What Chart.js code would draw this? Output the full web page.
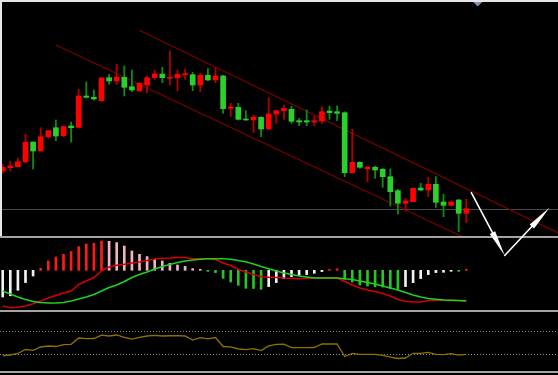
<!DOCTYPE html>
<html>
<head>
<meta charset="utf-8">
<script src="https://cdn.jsdelivr.net/npm/chart.js@4.4.0/dist/chart.umd.min.js"></script>
<style>
html,body{margin:0;padding:0;background:#000;overflow:hidden}
#wrap{width:558px;height:375px;position:relative;background:#000}
canvas{display:block}
</style>
</head>
<body>
<div id="wrap"><canvas id="c" width="558" height="375"></canvas></div>
<script>
// ---------- data ----------
const opens  = [22.90,23.23,23.33,23.83,25.80,24.90,26.33,27.23,26.43,27.40,27.27,30.40,30.27,29.93,32.23,31.90,32.27,31.33,30.93,31.50,32.23,32.60,32.17,32.23,32.53,32.53,31.50,32.47,32.00,32.40,29.17,29.27,28.10,28.00,28.27,27.10,28.60,28.93,29.07,27.93,27.93,27.80,27.90,28.90,28.83,28.73,22.73,23.77,23.13,23.27,23.07,22.33,20.93,19.67,19.83,21.20,21.00,21.57,19.80,19.47,20.00,18.67];
const highs  = [23.57,23.90,24.17,26.60,25.80,27.23,26.95,28.00,27.40,27.80,31.07,31.80,31.00,32.27,32.57,33.57,33.40,33.00,31.73,32.40,33.00,33.27,34.90,33.00,33.07,32.77,32.67,33.13,33.23,32.47,29.67,29.67,28.93,28.50,28.33,30.23,29.00,29.50,29.40,28.17,29.00,28.40,29.33,29.40,29.40,28.83,27.07,23.83,23.30,23.40,23.17,23.10,21.07,20.17,21.17,21.67,22.27,22.33,20.57,19.90,20.07,20.07];
const lows   = [22.67,22.90,23.30,23.73,23.10,24.90,26.17,25.93,26.33,25.80,27.20,30.20,30.00,29.87,31.57,31.57,30.40,30.83,30.83,30.73,32.07,31.73,31.50,30.93,32.07,30.93,30.83,31.93,31.73,28.67,28.33,28.00,27.97,26.73,26.33,27.07,27.67,28.07,27.67,27.43,27.43,27.43,27.67,28.07,27.93,22.33,22.70,23.17,21.83,22.17,21.27,19.40,18.60,18.90,19.83,20.93,20.33,19.27,18.33,19.40,16.83,17.73];
const closes = [23.27,23.40,23.83,25.77,24.90,26.33,26.93,26.40,27.33,27.23,30.40,30.27,30.10,32.20,31.90,32.27,31.27,31.00,31.67,32.23,32.60,32.23,32.27,32.57,32.60,31.50,32.47,32.00,32.40,29.13,29.30,28.07,28.00,28.27,27.10,28.60,28.93,29.17,27.87,27.80,27.80,27.93,28.83,28.73,28.67,22.73,23.77,23.27,23.30,23.00,22.33,20.83,19.67,19.90,21.17,21.00,21.57,19.77,19.47,19.80,18.67,19.13];

const macdHist = [-0.267,-0.255,-0.200,-0.123,-0.057,0.020,0.093,0.133,0.160,0.187,0.237,0.263,0.270,0.293,0.290,0.277,0.243,0.193,0.160,0.137,0.110,0.093,0.070,0.053,0.040,0.017,0.010,-0.005,-0.023,-0.080,-0.117,-0.150,-0.180,-0.182,-0.190,-0.163,-0.123,-0.083,-0.063,-0.050,-0.043,-0.030,-0.013,0.010,0.015,-0.090,-0.117,-0.147,-0.157,-0.163,-0.168,-0.183,-0.190,-0.163,-0.123,-0.083,-0.043,-0.023,-0.020,-0.008,-0.010,0.007];
const difLine = [-0.357,-0.374,-0.370,-0.357,-0.335,-0.307,-0.277,-0.252,-0.227,-0.207,-0.142,-0.107,-0.072,-0.007,0.033,0.050,0.060,0.073,0.083,0.098,0.113,0.120,0.123,0.128,0.128,0.116,0.116,0.116,0.108,0.073,0.048,0.008,-0.017,-0.042,-0.064,-0.070,-0.072,-0.077,-0.080,-0.084,-0.080,-0.077,-0.077,-0.077,-0.077,-0.112,-0.147,-0.177,-0.197,-0.212,-0.232,-0.257,-0.292,-0.310,-0.317,-0.317,-0.302,-0.297,-0.300,-0.300,-0.305,-0.310];
const deaLine = [-0.207,-0.237,-0.267,-0.292,-0.312,-0.322,-0.327,-0.327,-0.322,-0.307,-0.287,-0.267,-0.242,-0.207,-0.172,-0.147,-0.112,-0.072,-0.042,-0.017,0.013,0.038,0.058,0.078,0.093,0.103,0.110,0.115,0.116,0.115,0.110,0.098,0.085,0.063,0.038,0.015,-0.007,-0.027,-0.042,-0.057,-0.067,-0.077,-0.077,-0.077,-0.077,-0.084,-0.092,-0.107,-0.122,-0.137,-0.157,-0.177,-0.197,-0.222,-0.247,-0.267,-0.282,-0.290,-0.297,-0.300,-0.302,-0.304];

const rsiLine = [28.0,28.8,31.4,38.1,36.8,42.4,44.1,43.2,46.3,46.9,57.6,56.4,56.8,62.4,61.0,62.7,58.5,55.9,58.5,61.0,62.0,61.0,61.4,61.5,61.0,54.2,58.1,56.3,58.5,43.2,42.7,39.0,37.8,39.5,36.4,44.1,46.9,47.1,41.2,41.2,41.2,41.5,47.5,47.5,47.5,26.3,31.7,30.0,30.0,30.0,28.3,25.4,22.9,23.7,31.7,31.7,33.4,30.0,29.3,31.0,28.5,30.0];
const rsiLevels = [70, 30];

const levelPrice = 19.15;                       // horizontal level line
const channelUpper = [{x:17.97,y:36.97},{x:73.07,y:16.70}];
const channelLower = [{x:7.01,y:35.50},{x:60.56,y:16.30}];
const arrowPath = [{x:61.66,y:20.73},{x:66.05,y:14.45},{x:71.97,y:19.25}];

// ---------- layout ----------
const W = 558, H = 375;
const X_FIRST = 2.7, X_STEP = 7.6;             // pixel of candle 0 and bar spacing
function yRange(p1, v1, p2, v2) {              // linear map pixel->value over full height
  const k = (v2 - v1) / (p2 - p1);
  return { max: v1 - k * p1, min: v1 + k * (H - p1) };
}
const priceR = yRange(2, 39.8, 236, 16.4);
const macdR  = yRange(270.3, 0, 311, -0.407);
const rsiR   = yRange(372, 0, 313, 100);

const idx = opens.map((_, i) => i);
const UP_BODY = '#ff0000', DN_BODY = '#2bd02b', UP_WICK = '#b00000', DN_WICK = '#0c8c0c';
const isUp = i => closes[i] >= opens[i];

function histColor(i) {
  const v = macdHist[i], p = i > 0 ? macdHist[i - 1] : v;
  if (v >= 0) return v >= p ? '#ff1a1a' : '#f0b4c2';
  return v >= p ? '#f2f2f2' : '#26c626';
}

const decor = {
  id: 'decor',
  beforeDatasetsDraw(chart) {
    const c = chart.ctx, yP = chart.scales.yP, yR = chart.scales.yR;
    c.save();
    c.strokeStyle = '#4a4a4a'; c.lineWidth = 1;
    const ly = Math.round(yP.getPixelForValue(levelPrice)) + 0.5;
    c.beginPath(); c.moveTo(0, ly); c.lineTo(W, ly); c.stroke();
    c.setLineDash([1, 2]); c.strokeStyle = '#909090';
    rsiLevels.forEach(v => {
      const y = Math.round(yR.getPixelForValue(v)) + 0.5;
      c.beginPath(); c.moveTo(0, y); c.lineTo(W, y); c.stroke();
    });
    c.restore();
  },
  afterDatasetsDraw(chart) {
    const c = chart.ctx, sx = chart.scales.x, yP = chart.scales.yP;
    c.save();
    // panel separators
    c.fillStyle = '#a4a4a4';
    c.fillRect(0, 236, W, 2);
    c.fillRect(0, 310, W, 2);
    c.fillRect(0, 371, W, 2);
    // window border
    c.fillStyle = '#e6e6e6';
    c.fillRect(0, 0, W, 2);
    c.fillRect(0, 0, 2, 236);
    // small marker triangle
    const tx = sx.getPixelForValue(62.5);
    c.fillStyle = '#8391a8';
    c.beginPath(); c.moveTo(tx - 4.5, 2); c.lineTo(tx + 4.5, 2); c.lineTo(tx, 6.5); c.closePath(); c.fill();
    // arrows
    const pts = arrowPath.map(p => ({ x: sx.getPixelForValue(p.x), y: yP.getPixelForValue(p.y) }));
    c.strokeStyle = '#ffffff'; c.fillStyle = '#ffffff'; c.lineWidth = 1.6; c.lineCap = 'round';
    for (let s = 0; s < pts.length - 1; s++) {
      const a = pts[s], b = pts[s + 1];
      const dx = b.x - a.x, dy = b.y - a.y, L = Math.hypot(dx, dy), ux = dx / L, uy = dy / L;
      const hl = 26, hw = 3;
      c.beginPath(); c.moveTo(a.x, a.y); c.lineTo(b.x - ux * hl, b.y - uy * hl); c.stroke();
      c.beginPath();
      c.moveTo(b.x, b.y);
      c.lineTo(b.x - ux * hl - uy * hw, b.y - uy * hl + ux * hw);
      c.lineTo(b.x - ux * hl + uy * hw, b.y - uy * hl - ux * hw);
      c.closePath(); c.fill();
    }
    c.restore();
  }
};

new Chart(document.getElementById('c'), {
  type: 'bar',
  data: {
    datasets: [
      { type: 'line', data: channelUpper, yAxisID: 'yP', borderColor: '#7d0000', borderWidth: 1.2, pointRadius: 0, order: 5 },
      { type: 'line', data: channelLower, yAxisID: 'yP', borderColor: '#7d0000', borderWidth: 1.2, pointRadius: 0, order: 5 },
      { type: 'bar', data: idx.map(i => ({ x: i, y: [lows[i], highs[i]] })), yAxisID: 'yP', grouped: false,
        barThickness: 1.2, backgroundColor: c => isUp(c.dataIndex) ? UP_WICK : DN_WICK, order: 4 },
      { type: 'bar', data: idx.map(i => ({ x: i, y: [opens[i], closes[i]] })), yAxisID: 'yP', grouped: false,
        barThickness: 5, minBarLength: 1, backgroundColor: c => isUp(c.dataIndex) ? UP_BODY : DN_BODY, order: 3 },
      { type: 'bar', data: idx.map(i => ({ x: i, y: macdHist[i] })), yAxisID: 'yM', grouped: false,
        barThickness: 2, minBarLength: 1, backgroundColor: c => histColor(c.dataIndex), order: 2 },
      { type: 'line', data: idx.map(i => ({ x: i, y: difLine[i] })), yAxisID: 'yM', borderColor: '#d20000', borderWidth: 1.6, pointRadius: 0, order: 1 },
      { type: 'line', data: idx.map(i => ({ x: i, y: deaLine[i] })), yAxisID: 'yM', borderColor: '#1fd01f', borderWidth: 1.6, pointRadius: 0, order: 0 },
      { type: 'line', data: idx.map(i => ({ x: i, y: rsiLine[i] })), yAxisID: 'yR', borderColor: '#8c7300', borderWidth: 1.3, pointRadius: 0, order: 0 }
    ]
  },
  options: {
    responsive: false,
    animation: false,
    devicePixelRatio: 1,
    events: [],
    layout: { padding: 0 },
    plugins: { legend: { display: false }, tooltip: { enabled: false } },
    scales: {
      x:  { type: 'linear', display: false, offset: false, min: -X_FIRST / X_STEP, max: (W - X_FIRST) / X_STEP, grid: { display: false } },
      yP: { type: 'linear', display: false, bounds: 'data', min: priceR.min, max: priceR.max, beginAtZero: false },
      yM: { type: 'linear', display: false, bounds: 'data', min: macdR.min, max: macdR.max, beginAtZero: false },
      yR: { type: 'linear', display: false, bounds: 'data', min: rsiR.min, max: rsiR.max, beginAtZero: false }
    }
  },
  plugins: [decor]
});
</script>
</body>
</html>
